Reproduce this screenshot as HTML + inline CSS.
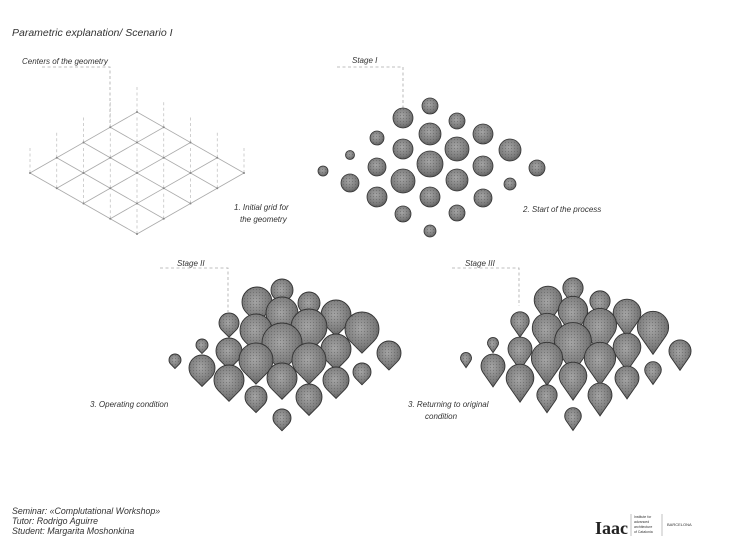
<!DOCTYPE html>
<html><head><meta charset="utf-8">
<style>
html,body{margin:0;padding:0;background:#fff;}
body{width:730px;height:546px;overflow:hidden;}
svg text{font-family:"Liberation Sans",sans-serif;font-style:italic;fill:#333;}
</style></head>
<body>
<svg id="s" width="730" height="546" viewBox="0 0 730 546" xmlns="http://www.w3.org/2000/svg">
<defs>
<radialGradient id="g" cx="0.45" cy="0.4" r="0.65">
<stop offset="0" stop-color="#a5a5a5"/><stop offset="0.7" stop-color="#7a7a7a"/><stop offset="1" stop-color="#555"/>
</radialGradient>
<pattern id="p" width="3" height="3" patternUnits="userSpaceOnUse"><circle cx="1.5" cy="1.5" r="0.6" fill="#555" opacity="0.5"/></pattern>
</defs>
<text x="12" y="36" font-size="10.5">Parametric  explanation/ Scenario I</text>
<text x="22" y="64" font-size="8">Centers of the geometry</text>
<text x="352" y="63" font-size="8">Stage I</text>
<text x="177" y="266" font-size="8">Stage II</text>
<text x="465" y="266" font-size="8">Stage III</text>
<text x="234" y="210" font-size="8">1.  Initial grid for</text>
<text x="240" y="222" font-size="8">the geometry</text>
<text x="523" y="212" font-size="8">2.  Start of the process</text>
<text x="90" y="407" font-size="8">3.  Operating condition</text>
<text x="408" y="407" font-size="8">3.  Returning to original</text>
<text x="425" y="419" font-size="8">condition</text>
<g stroke="#aaa" stroke-width="0.8" stroke-dasharray="3,2.5" fill="none">
<path d="M42 67 H110 V127"/>
<path d="M337 67 H403 V110"/>
<path d="M160 268 H228 V312"/>
<path d="M452 268 H519 V306"/>
</g>
<g id="grid"></g>
<g id="st1"></g>
<g id="st2"></g>
<g id="st3"></g>
<text x="12" y="514" font-size="8.8">Seminar: «Complutational Workshop»</text>
<text x="12" y="524" font-size="8.8">Tutor:  Rodrigo Aguirre</text>
<text x="12" y="534" font-size="8.8">Student:  Margarita  Moshonkina</text>
<text x="595" y="534" font-size="18" font-weight="bold" style="font-family:'Liberation Serif',serif;font-style:normal;fill:#222">Iaac</text>
<line x1="631" y1="514" x2="631" y2="536" stroke="#999" stroke-width="0.6"/>
<line x1="662" y1="514" x2="662" y2="536" stroke="#999" stroke-width="0.6"/>
<text x="634" y="518" font-size="3.5" style="font-style:normal">Institute for</text>
<text x="634" y="523" font-size="3.5" style="font-style:normal">advanced</text>
<text x="634" y="528" font-size="3.5" style="font-style:normal">architecture</text>
<text x="634" y="533" font-size="3.5" style="font-style:normal">of Catalonia</text>
<text x="667" y="526" font-size="4" style="font-style:normal">BARCELONA</text>
</svg>
<script>
var NS="http://www.w3.org/2000/svg";
function el(p,t,a){var e=document.createElementNS(NS,t);for(var k in a)e.setAttribute(k,a[k]);document.getElementById(p).appendChild(e);return e;}
var ox=137,oy=112,ax=26.75,ay=15.25;
for(var i=0;i<5;i++){
 el("grid","line",{x1:ox-i*ax,y1:oy+i*ay,x2:ox-i*ax+4*ax,y2:oy+i*ay+4*ay,stroke:"#aaa","stroke-width":0.8});
 el("grid","line",{x1:ox+i*ax,y1:oy+i*ay,x2:ox+i*ax-4*ax,y2:oy+i*ay+4*ay,stroke:"#aaa","stroke-width":0.8});
}
for(var i=0;i<5;i++)for(var j=0;j<5;j++){
 var x=ox+(i-j)*ax,y=oy+(i+j)*ay;
 el("grid","line",{x1:x,y1:y-25,x2:x,y2:y,stroke:"#bbb","stroke-width":0.7,"stroke-dasharray":"3,2.5"});
 el("grid","circle",{cx:x,cy:y,r:1,fill:"#888"});
}
var s1=[[430,106,8],[403,118,10],[457,121,8],[430,134,11],[483,134,10],[377,138,7],[403,149,10],[457,149,12],[510,150,11],[350,155,4.5],[430,164,13],[483,166,10],[377,167,9],[323,171,5],[537,168,8],[403,181,12],[457,180,11],[350,183,9],[510,184,6],[377,197,10],[430,197,10],[483,198,9],[403,214,8],[457,213,8],[430,231,6]];
s1.forEach(function(c){
 el("st1","circle",{cx:c[0],cy:c[1],r:c[2],fill:"url(#g)",stroke:"#333","stroke-width":0.8});
 el("st1","circle",{cx:c[0],cy:c[1],r:c[2],fill:"url(#p)"});
});
var s2=[[282,290,11],[257,302,15],[309,303,11],[282,313,16],[336,315,15],[229,323,10],[256,330,16],[309,327,18],[362,329,17],[202,345,6],[282,343,20],[336,349,15],[229,351,13],[175,360,6],[389,353,12],[256,360,17],[309,360,17],[202,368,13],[362,372,9],[229,380,15],[282,378,15],[336,380,13],[256,397,11],[309,397,13],[282,418,9]];
function drop(g,cx,cy,r,k){
 var d=k*r; var sa=r/d; var ang=Math.asin(sa); var ca=Math.cos(ang);
 var tx=r*ca, ty=cy+r*sa;
 var p="M"+cx+","+(cy+d)+" L"+(cx-tx)+","+ty+" A"+r+","+r+" 0 1,1 "+(cx+tx)+","+ty+" Z";
 el(g,"path",{d:p,fill:"url(#g)",stroke:"#333","stroke-width":0.9});
 el(g,"path",{d:p,fill:"url(#p)"});
}
s2.slice().sort(function(a,b){return a[1]-b[1];}).forEach(function(c){drop("st2",c[0],c[1],c[2],1.42);});
s2.slice().sort(function(a,b){return a[1]-b[1];}).forEach(function(c){
 var r=c[2]*0.92; drop("st3",c[0]+291,c[1]-2,r,1.75);
});
</script>
</body></html>
